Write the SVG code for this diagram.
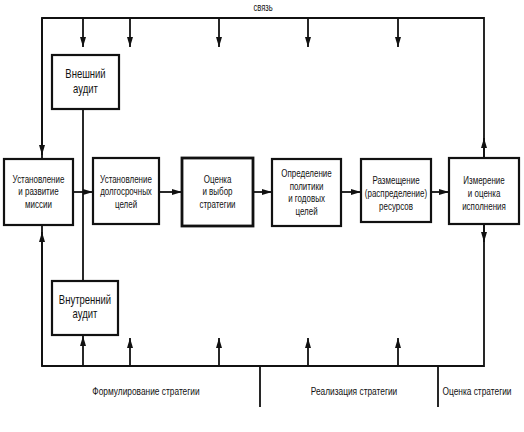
<svg xmlns="http://www.w3.org/2000/svg" width="524" height="432" viewBox="0 0 524 432">
<style>
text{font-family:"Liberation Sans",Arial,sans-serif;font-size:10.5px;fill:#111;text-anchor:middle;transform-box:fill-box;transform-origin:center;transform:scaleX(0.76)}
.big{font-size:12.5px}
.box{fill:#fff;stroke:#111;stroke-width:2.2}
.ln{fill:none;stroke:#111;stroke-width:1.8}
</style>
<defs>
<marker id="ah" viewBox="0 0 10 6" refX="10" refY="3" markerWidth="10" markerHeight="6" markerUnits="userSpaceOnUse" orient="auto">
<path d="M0,0 L10,3 L0,6 Z" fill="#111"/>
</marker>
</defs>
<rect width="524" height="432" fill="#fff"/>
<g id="connectors">
<path class="ln" d="M42,366 V18 H484 V366 Z"/>
<path class="ln" d="M42,18 V155" marker-end="url(#ah)"/>
<path class="ln" d="M42,366 V232" marker-end="url(#ah)"/>
<path class="ln" d="M484,158 V138" marker-end="url(#ah)"/>
<path class="ln" d="M484,224 V242" marker-end="url(#ah)"/>
<path class="ln" d="M83,18 V47" marker-end="url(#ah)"/>
<path class="ln" d="M130,18 V47" marker-end="url(#ah)"/>
<path class="ln" d="M219,18 V47" marker-end="url(#ah)"/>
<path class="ln" d="M308,18 V47" marker-end="url(#ah)"/>
<path class="ln" d="M398,18 V47" marker-end="url(#ah)"/>
<path class="ln" d="M83,366 V336" marker-end="url(#ah)"/>
<path class="ln" d="M130,366 V338" marker-end="url(#ah)"/>
<path class="ln" d="M219,366 V338" marker-end="url(#ah)"/>
<path class="ln" d="M308,366 V338" marker-end="url(#ah)"/>
<path class="ln" d="M398,366 V338" marker-end="url(#ah)"/>
<path class="ln" d="M83,109 V281"/>
<path class="ln" d="M73,192 H93" marker-end="url(#ah)"/>
<path class="ln" d="M159,192 H182" marker-end="url(#ah)"/>
<path class="ln" d="M253,192 H272" marker-end="url(#ah)"/>
<path class="ln" d="M341,192 H361" marker-end="url(#ah)"/>
<path class="ln" d="M431,192 H449" marker-end="url(#ah)"/>
<path class="ln" d="M260,366 V407 M438,366 V407"/>
</g>
<text x="263" y="11" style="font-size:10px">связь</text>
<g id="external">
<rect class="box" x="52" y="55" width="67" height="54"/>
<text x="85.5" y="78" class="big">Внешний</text>
<text x="85.5" y="93" class="big">аудит</text>
</g>
<g id="internal">
<rect class="box" x="52" y="281" width="66" height="54"/>
<text x="85" y="304" class="big">Внутренний</text>
<text x="85" y="318" class="big">аудит</text>
</g>
<g id="mission">
<rect class="box" x="4" y="159" width="69" height="66"/>
<text x="38.5" y="183">Установление</text>
<text x="38.5" y="195.5">и развитие</text>
<text x="38.5" y="208">миссии</text>
</g>
<g id="longterm">
<rect class="box" x="93" y="158" width="66" height="66"/>
<text x="126" y="183">Установление</text>
<text x="126" y="195.5">долгосрочных</text>
<text x="126" y="208">целей</text>
</g>
<g id="choice">
<rect class="box" x="182" y="158" width="71" height="68" style="stroke-width:2.8"/>
<text x="217.5" y="183">Оценка</text>
<text x="217.5" y="195.5">и выбор</text>
<text x="217.5" y="208">стратегии</text>
</g>
<g id="policy">
<rect class="box" x="272" y="159" width="69" height="67"/>
<text x="306.5" y="177">Определение</text>
<text x="306.5" y="190">политики</text>
<text x="306.5" y="202.5">и годовых</text>
<text x="306.5" y="215">целей</text>
</g>
<g id="resources">
<rect class="box" x="361" y="159" width="70" height="63"/>
<text x="396" y="184">Размещение</text>
<text x="396" y="197">(распределение)</text>
<text x="396" y="210">ресурсов</text>
</g>
<g id="measure">
<rect class="box" x="449" y="158" width="70" height="66"/>
<text x="484" y="184">Измерение</text>
<text x="484" y="197">и оценка</text>
<text x="484" y="210">исполнения</text>
</g>
<text x="146" y="395" style="font-size:11px">Формулирование стратегии</text>
<text x="354" y="395" style="font-size:11px">Реализация стратегии</text>
<text x="477" y="395" style="font-size:11px">Оценка стратегии</text>
</svg>
